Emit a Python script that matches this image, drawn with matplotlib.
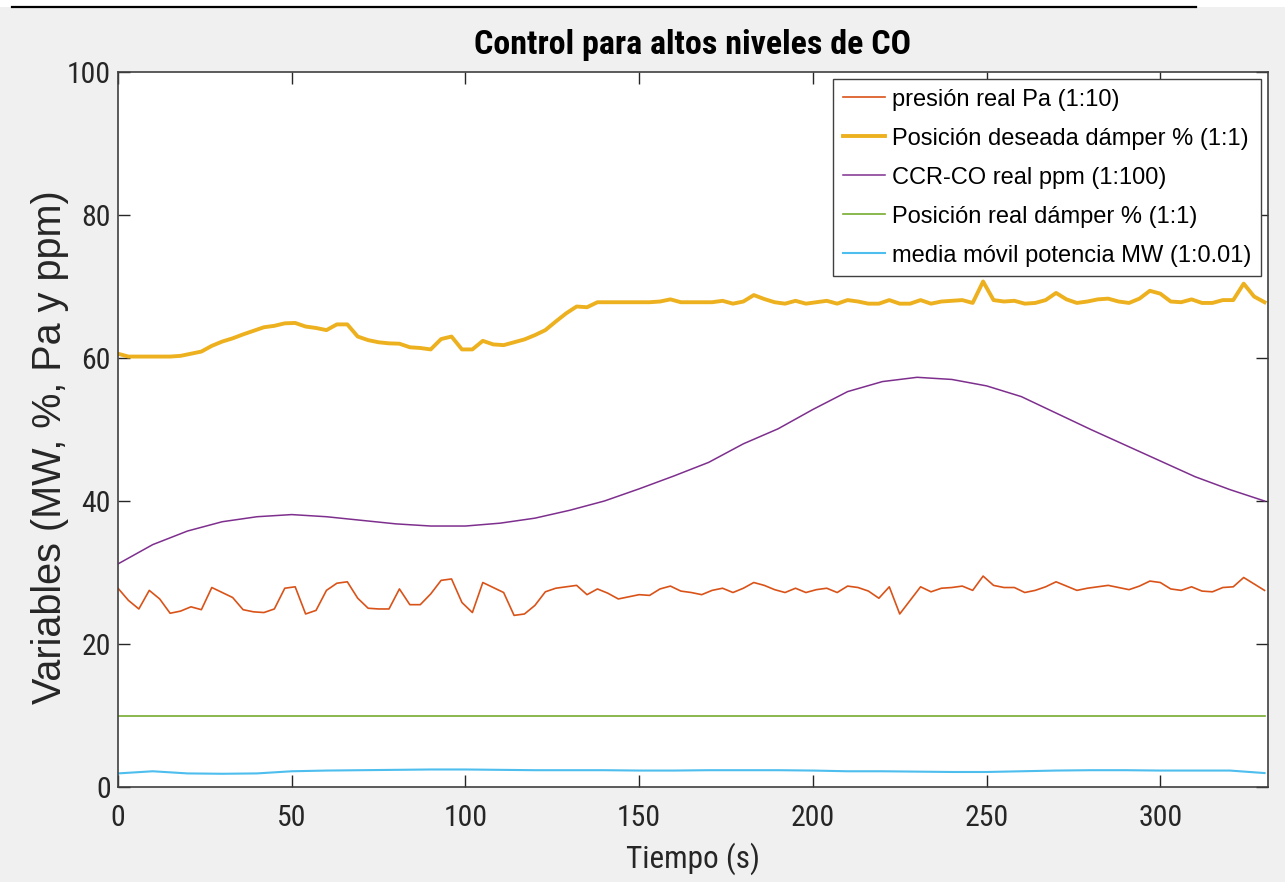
import numpy as np
import matplotlib
matplotlib.use('Agg')
import matplotlib.pyplot as plt
from matplotlib import font_manager
from matplotlib.lines import Line2D
from matplotlib.patches import Rectangle

# muestras cada 3 s
t_fast = np.arange(0, 331, 3)
presion = [27.8, 26.1, 24.9, 27.5, 26.3, 24.3, 24.6, 25.2, 24.8, 27.9,
           27.2, 26.5, 24.8, 24.5, 24.4, 24.9, 27.8, 28.0, 24.2, 24.7,
           27.5, 28.5, 28.7, 26.4, 25.0, 24.9, 24.9, 27.7, 25.5, 25.5,
           27.0, 28.9, 29.1, 25.8, 24.4, 28.6, 27.9, 27.2, 24.0, 24.2,
           25.4, 27.3, 27.8, 28.0, 28.2, 26.9, 27.7, 27.1, 26.3, 26.6,
           26.9, 26.8, 27.7, 28.1, 27.4, 27.2, 26.9, 27.5, 27.8, 27.2,
           27.8, 28.6, 28.2, 27.6, 27.2, 27.8, 27.2, 27.6, 27.8, 27.2,
           28.1, 27.9, 27.4, 26.4, 28.0, 24.2, 26.1, 28.0, 27.3, 27.8,
           27.9, 28.1, 27.5, 29.5, 28.2, 27.9, 27.9, 27.2, 27.5, 28.0,
           28.7, 28.1, 27.5, 27.8, 28.0, 28.2, 27.9, 27.6, 28.1, 28.8,
           28.6, 27.7, 27.5, 28.0, 27.4, 27.3, 27.9, 28.0, 29.3, 28.4,
           27.5]
damper_deseada = [60.6, 60.2, 60.2, 60.2, 60.2, 60.2, 60.3, 60.6, 60.9, 61.7,
                  62.3, 62.75, 63.3, 63.8, 64.3, 64.5, 64.85, 64.9, 64.4, 64.2,
                  63.9, 64.7, 64.7, 63.0, 62.5, 62.2, 62.05, 62.0, 61.5, 61.4,
                  61.2, 62.65, 63.0, 61.2, 61.2, 62.4, 61.9, 61.8, 62.2, 62.6,
                  63.2, 63.9, 65.1, 66.25, 67.2, 67.1, 67.8, 67.8, 67.8, 67.8,
                  67.8, 67.8, 67.9, 68.2, 67.8, 67.8, 67.8, 67.8, 68.0, 67.6,
                  67.9, 68.8, 68.25, 67.8, 67.6, 68.0, 67.6, 67.8, 68.0, 67.6,
                  68.1, 67.9, 67.6, 67.6, 68.1, 67.6, 67.6, 68.1, 67.6, 67.9,
                  68.0, 68.1, 67.7, 70.7, 68.1, 67.9, 68.0, 67.6, 67.7, 68.1,
                  69.1, 68.2, 67.7, 67.9, 68.2, 68.3, 67.9, 67.7, 68.3, 69.4,
                  69.0, 67.9, 67.8, 68.2, 67.7, 67.7, 68.1, 68.1, 70.4, 68.6,
                  67.8]

# muestras cada 10 s
t_slow = np.arange(0, 331, 10)
co_ppm = [31.2, 33.9, 35.8, 37.1, 37.8, 38.1, 37.8, 37.3, 36.8, 36.5,
          36.5, 36.9, 37.6, 38.7, 40.0, 41.7, 43.5, 45.4, 48.0, 50.1,
          52.8, 55.3, 56.7, 57.3, 57.0, 56.1, 54.6, 52.3, 50.0, 47.8,
          45.6, 43.4, 41.6, 40.0]
potencia = [1.9, 2.2, 1.9, 1.85, 1.9, 2.2, 2.3, 2.35, 2.4, 2.45,
            2.45, 2.4, 2.35, 2.35, 2.35, 2.3, 2.3, 2.35, 2.35, 2.35,
            2.3, 2.2, 2.2, 2.15, 2.1, 2.1, 2.2, 2.3, 2.35, 2.35,
            2.3, 2.3, 2.3, 1.95]
damper_real = 10.0

etiquetas = ['presión real Pa (1:10)',
             'Posición deseada dámper % (1:1)',
             'CCR-CO real ppm (1:100)',
             'Posición real dámper % (1:1)',
             'media móvil potencia MW (1:0.01)']


def fuente_estrecha():
    # busca una sans estrecha instalada; si no hay, Liberation Sans normal
    pref = ['Liberation Sans Narrow', 'Arial Narrow', 'Roboto Condensed',
            'Open Sans Condensed', 'Noto Sans', 'DejaVu Sans']
    found = {}
    for f in font_manager.fontManager.ttflist:
        if 'Narrow' in f.name or 'Condensed' in f.name:
            found.setdefault(f.name, 'normal')
        elif f.stretch not in ('normal', 400, 500) and 'condensed' in str(f.stretch):
            found.setdefault(f.name, f.stretch)
    for p in pref:
        if p in found:
            return p, found[p]
    return 'Liberation Sans', 'normal'


narrow, stretch = fuente_estrecha()
plt.rcParams['font.family'] = [narrow, 'Liberation Sans', 'DejaVu Sans']
plt.rcParams['font.stretch'] = stretch

fig = plt.figure(figsize=(12.85, 8.82), dpi=100, facecolor='#f0f0f0')
# franja blanca y raya superior
fig.patches.append(Rectangle((0, 1 - 7 / 882), 1, 7 / 882, transform=fig.transFigure,
                             facecolor='white', edgecolor='none', zorder=0))
fig.lines.append(Line2D([12 / 1285, 1196 / 1285], [1 - 7 / 882, 1 - 7 / 882],
                        transform=fig.transFigure, color='black', lw=1.6))

ax = fig.add_axes([118 / 1285, 95 / 882, 1150 / 1285, 715 / 882])
ax.set_facecolor('white')

ax.plot(t_fast, presion, color='#D95319', lw=1.2, label=etiquetas[0])
ax.plot(t_fast, damper_deseada, color='#EDB120', lw=2.8, label=etiquetas[1])
ax.plot(t_slow, co_ppm, color='#7E2F8E', lw=1.1, label=etiquetas[2])
ax.plot(t_slow, np.full(len(t_slow), damper_real), color='#77AC30', lw=1.2, label=etiquetas[3])
ax.plot(t_slow, potencia, color='#4DBEEE', lw=1.5, label=etiquetas[4])

ax.set_xlim(0, 331)
ax.set_ylim(0, 100)
ax.set_xticks(np.arange(0, 301, 50))
ax.set_yticks(np.arange(0, 101, 20))
ax.tick_params(direction='in', top=True, right=True, length=8.5, width=1,
               color='#262626', labelcolor='#262626', labelsize=21.5)
ax.tick_params(axis='x', pad=12)
ax.tick_params(axis='y', pad=5)
for s in ax.spines.values():
    s.set_color('#404040')
    s.set_linewidth(1.2)

ax.set_title('Control para altos niveles de CO', fontsize=24.5, fontweight='bold', pad=13)
ax.set_xlabel('Tiempo (s)', fontsize=22.5, color='#262626', labelpad=8)
ax.set_ylabel('Variables (MW, %, Pa y ppm)', fontsize=28.5, color='#262626',
              family=['Liberation Sans', 'DejaVu Sans'], stretch='normal')
ax.yaxis.set_label_coords(-0.043, 0.475)

leg = ax.legend(loc='upper right',
                prop={'family': ['Liberation Sans', 'DejaVu Sans'], 'size': 17, 'stretch': 'normal'},
                frameon=True, fancybox=False, framealpha=1, edgecolor='#404040',
                handlelength=1.8, handletextpad=0.3, labelspacing=0.72,
                borderpad=0.4, borderaxespad=0.3)
leg.get_frame().set_linewidth(1.0)

fig.savefig('out.png', dpi=100, facecolor=fig.get_facecolor())
